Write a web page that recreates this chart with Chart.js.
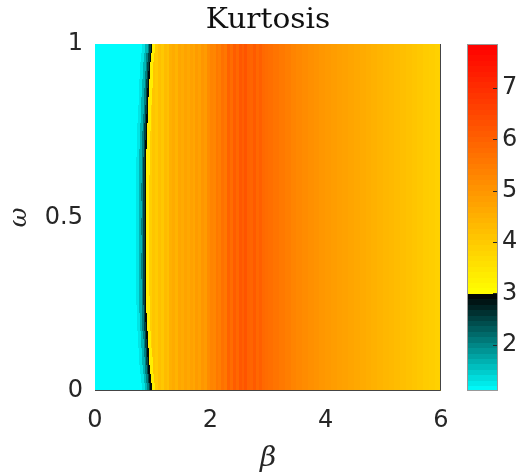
<!DOCTYPE html>
<html>
<head>
<meta charset="utf-8">
<title>Kurtosis</title>
<script src="https://cdn.jsdelivr.net/npm/chart.js@4.4.0/dist/chart.umd.min.js"></script>
<style>
  html, body { margin: 0; padding: 0; background: #fff; }
  canvas { display: block; }
</style>
</head>
<body>
<canvas id="kurtChart" width="523" height="476"></canvas>
<script>
// tick labels
const betaTicks = [0, 2, 4, 6];
const omegaTicks = [0, 0.5, 1];
const colorbarTicks = [2, 3, 4, 5, 6, 7];
const colorLimits = [1.1, 7.86];

// omega rows (lower edge of each row, rows are 0.025 high)
const omegaRows = [0, 0.025, 0.05, 0.075, 0.1, 0.125, 0.15, 0.175, 0.2, 0.225,
  0.25, 0.275, 0.3, 0.325, 0.35, 0.375, 0.4, 0.425, 0.45, 0.475,
  0.5, 0.525, 0.55, 0.575, 0.6, 0.625, 0.65, 0.675, 0.7, 0.725,
  0.75, 0.775, 0.8, 0.825, 0.85, 0.875, 0.9, 0.925, 0.95, 0.975];
// beta where the black edge ends (start of the yellow side) in each row
const edgeBeta = [0.995, 0.975, 0.96, 0.95, 0.94, 0.93, 0.92, 0.91, 0.905, 0.90,
  0.898, 0.896, 0.896, 0.895, 0.895, 0.895, 0.896, 0.896, 0.895, 0.895,
  0.896, 0.896, 0.895, 0.895, 0.896, 0.897, 0.898, 0.90, 0.905, 0.91,
  0.915, 0.92, 0.93, 0.935, 0.94, 0.95, 0.955, 0.965, 0.98, 1.0];

// left side: plain cyan, then darkening towards the edge
const leftValue = 1.12;
const bandOffsets = [-0.17, -0.12, -0.08, -0.05, -0.025];
const bandValues = [1.3, 1.65, 2.05, 2.5, 2.92];
// thin bright strip just right of the edge
const rimWidth = 0.04;
const rimValue = 3.3;

// right side: kurtosis per beta column (left edge of each column), the same for every omega
const profileBeta = [0.90, 0.95, 1.00, 1.05, 1.10, 1.15, 1.20, 1.25, 1.30, 1.35,
  1.40, 1.45, 1.50, 1.55, 1.60, 1.65, 1.70, 1.75, 1.80, 1.85,
  1.90, 1.95, 2.00, 2.05, 2.10, 2.15, 2.20, 2.25, 2.30, 2.35,
  2.40, 2.45, 2.50, 2.55, 2.60, 2.65, 2.70, 2.75, 2.80, 2.85,
  2.90, 2.95, 3.0, 3.1, 3.2, 3.3, 3.4, 3.5, 3.6, 3.7,
  3.8, 3.9, 4.0, 4.1, 4.2, 4.3, 4.4, 4.5, 4.6, 4.7,
  4.8, 4.9, 5.0, 5.1, 5.2, 5.3, 5.4, 5.5, 5.6, 5.7,
  5.8, 5.9];
const profileKurt = [3.6, 3.9, 4.1, 4.0, 4.2, 4.05, 4.3, 4.2, 4.5, 4.6,
  4.45, 4.7, 4.6, 4.75, 4.65, 4.8, 4.7, 4.9, 4.8, 5.0,
  4.9, 5.2, 5.35, 5.3, 5.55, 5.45, 5.7, 5.6, 6.0, 5.8,
  6.1, 5.9, 6.2, 6.05, 6.25, 6.0, 5.95, 6.15, 5.9, 6.05,
  5.85, 5.8, 5.75, 5.65, 5.55, 5.45, 5.35, 5.27, 5.2, 5.12,
  5.05, 4.98, 4.92, 4.87, 4.82, 4.77, 4.72, 4.66, 4.6, 4.54,
  4.48, 4.43, 4.38, 4.33, 4.28, 4.22, 4.16, 4.1, 4.04, 3.98,
  3.93, 3.88];

// colormap: cyan -> black up to 3, yellow -> red above
const cmapStops = [1.1, 3.0, 3.0, 7.86];
const cmapColors = [[0, 255, 255], [0, 0, 0], [255, 255, 0], [255, 0, 0]];

function colorFor(v) {
    v = Math.min(Math.max(v, cmapStops[0]), cmapStops[cmapStops.length - 1]);
    let i = v <= cmapStops[1] ? 0 : 2;
    const t = (v - cmapStops[i]) / (cmapStops[i + 1] - cmapStops[i]);
    const a = cmapColors[i], b = cmapColors[i + 1];
    const c = a.map((ch, k) => Math.round(ch + (b[k] - ch) * t));
    return `rgb(${c[0]},${c[1]},${c[2]})`;
}

const TEXT = '#262626';
const barLeft = 467, barWidth = 31; // colorbar box

const heatmapPlugin = {
    id: 'heatmap',
    beforeDatasetsDraw(chart) {
        const { ctx, chartArea, scales: { x, y } } = chart;
        ctx.save();
        ctx.beginPath();
        ctx.rect(chartArea.left, chartArea.top, chartArea.right - chartArea.left, chartArea.bottom - chartArea.top);
        ctx.clip();

        const cell = (b0, b1, w0, w1, v) => {
            const px0 = Math.floor(x.getPixelForValue(b0));
            const px1 = Math.ceil(x.getPixelForValue(b1));
            const py0 = Math.floor(y.getPixelForValue(w1));
            const py1 = Math.ceil(y.getPixelForValue(w0));
            ctx.fillStyle = colorFor(v);
            ctx.fillRect(px0, py0, px1 - px0, py1 - py0);
        };

        for (let r = 0; r < omegaRows.length; r++) {
            const w0 = omegaRows[r];
            const w1 = r + 1 < omegaRows.length ? omegaRows[r + 1] : 1;
            const edge = edgeBeta[r];
            cell(0, edge + bandOffsets[0], w0, w1, leftValue);
            for (let i = 0; i < bandOffsets.length; i++) {
                const end = i + 1 < bandOffsets.length ? edge + bandOffsets[i + 1] : edge;
                cell(edge + bandOffsets[i], end, w0, w1, bandValues[i]);
            }
            for (let c = 0; c < profileBeta.length; c++) {
                const b1 = c + 1 < profileBeta.length ? profileBeta[c + 1] : 6;
                if (b1 <= edge) continue;
                cell(Math.max(profileBeta[c], edge), b1, w0, w1, profileKurt[c]);
            }
            cell(edge, edge + rimWidth, w0, w1, rimValue);
        }
        ctx.restore();
    },
    afterDraw(chart) {
        const { ctx, chartArea, scales: { cb } } = chart;
        ctx.save();

        // plot box (bottom and right lines show)
        ctx.strokeStyle = '#444';
        ctx.lineWidth = 1;
        ctx.beginPath();
        ctx.moveTo(chartArea.left, chartArea.bottom - 0.5);
        ctx.lineTo(chartArea.right - 0.5, chartArea.bottom - 0.5);
        ctx.lineTo(chartArea.right - 0.5, chartArea.top);
        ctx.stroke();

        // colorbar, 64 levels like the MATLAB map
        const steps = 64;
        const span = colorLimits[1] - colorLimits[0];
        for (let k = 0; k < steps; k++) {
            const v0 = colorLimits[0] + span * k / steps;
            const v1 = colorLimits[0] + span * (k + 1) / steps;
            const yTop = Math.floor(cb.getPixelForValue(v1));
            const yBot = Math.ceil(cb.getPixelForValue(v0));
            ctx.fillStyle = colorFor((v0 + v1) / 2);
            ctx.fillRect(barLeft, yTop, barWidth, yBot - yTop);
        }
        ctx.strokeStyle = '#999';
        ctx.strokeRect(barLeft + 0.5, chartArea.top + 0.5, barWidth - 1, chartArea.bottom - chartArea.top - 1);
        // small inward ticks on the right side of the bar
        ctx.strokeStyle = TEXT;
        colorbarTicks.forEach(t => {
            const py = Math.round(cb.getPixelForValue(t)) + 0.5;
            ctx.beginPath();
            ctx.moveTo(barLeft + barWidth - 5, py);
            ctx.lineTo(barLeft + barWidth - 1, py);
            ctx.stroke();
        });

        // title, centred over the plot (LaTeX font is wider, so stretch a little)
        ctx.fillStyle = '#111';
        ctx.font = '27px "DejaVu Serif"';
        ctx.textAlign = 'center';
        ctx.textBaseline = 'alphabetic';
        ctx.translate((chartArea.left + chartArea.right) / 2, 28);
        ctx.scale(1.1, 1);
        ctx.fillText('Kurtosis', 0, 0);
        ctx.restore();
    }
};

const ctx = document.getElementById('kurtChart').getContext('2d');
const tickFont = { family: '"DejaVu Sans"', size: 24 };
const noPad = s => { s.paddingTop = 0; s.paddingBottom = 0; s.paddingLeft = 0; s.paddingRight = 0; };

const kurtChart = new Chart(ctx, {
    type: 'scatter',
    data: { datasets: [] },
    options: {
        responsive: false,
        animation: false,
        events: [],
        layout: { padding: { top: 44, left: 0, right: 0, bottom: 0 } },
        plugins: { legend: { display: false }, tooltip: { enabled: false }, title: { display: false } },
        scales: {
            x: {
                type: 'linear', min: 0, max: 6,
                grid: { display: false, drawTicks: false },
                border: { display: false },
                afterBuildTicks: s => { s.ticks = betaTicks.map(v => ({ value: v })); },
                ticks: { font: tickFont, color: TEXT, padding: 15, maxRotation: 0, callback: v => String(v) },
                title: { display: true, text: 'β', color: TEXT, font: { family: '"DejaVu Serif"', size: 28, style: 'italic' }, padding: { top: 0, bottom: 0 } },
                afterFit: s => { s.height = 85; noPad(s); }
            },
            y: {
                type: 'linear', min: 0, max: 1, position: 'left',
                grid: { display: false, drawTicks: false },
                border: { display: false },
                afterBuildTicks: s => { s.ticks = omegaTicks.map(v => ({ value: v })); },
                ticks: { font: tickFont, color: TEXT, padding: 12, callback: v => String(v) },
                title: { display: true, text: 'ω', color: TEXT, font: { family: '"DejaVu Serif"', size: 24, style: 'italic' }, padding: { top: 5, bottom: 0 } },
                afterFit: s => { s.width = 95; noPad(s); }
            },
            cb: {
                type: 'linear', min: colorLimits[0], max: colorLimits[1], position: 'right',
                grid: { display: false, drawTicks: false },
                border: { display: false },
                afterBuildTicks: s => { s.ticks = colorbarTicks.map(v => ({ value: v })); },
                ticks: { font: tickFont, color: TEXT, padding: 61, callback: v => String(v) },
                afterFit: s => { s.width = 82; noPad(s); }
            }
        }
    },
    plugins: [heatmapPlugin]
});
</script>
</body>
</html>
